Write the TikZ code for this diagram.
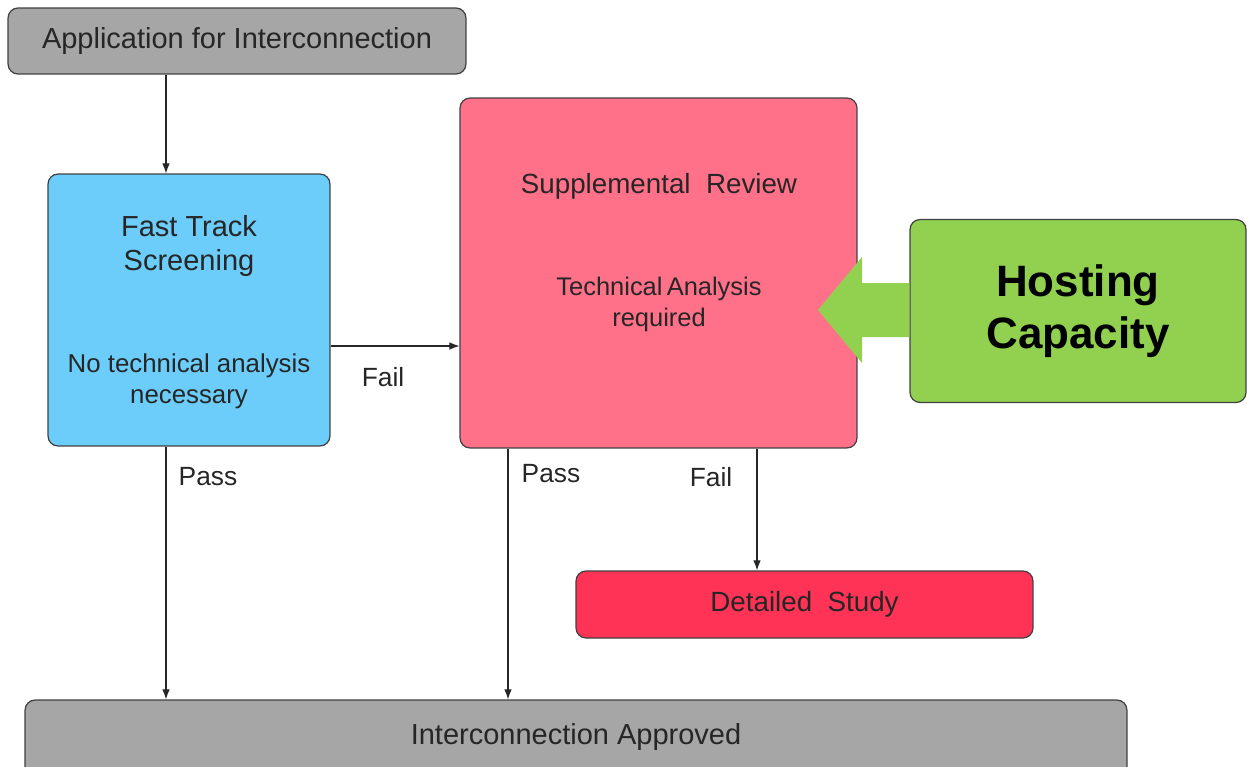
\documentclass[tikz,border=0pt]{standalone}
\usepackage{fontspec}
\setmainfont{Liberation Sans}
\usetikzlibrary{arrows.meta}
\definecolor{boxgray}{HTML}{A6A6A6}
\definecolor{boxblue}{HTML}{6CCDFA}
\definecolor{boxpink}{HTML}{FF7189}
\definecolor{boxred}{HTML}{FF3355}
\definecolor{boxgreen}{HTML}{92D050}
\definecolor{edgegray}{HTML}{404040}
\begin{document}
\begin{tikzpicture}[x=0.02cm,y=-0.02cm,
  box/.style={draw=edgegray,line width=0.7pt,rounded corners=0.2cm,inner sep=0pt},
  txt/.style={text=black!85,align=center,inner sep=0pt},
  lbl/.style={font=\fontsize{15}{18}\selectfont,text=black!85,inner sep=0pt},
  conn/.style={draw=black!85,line width=0.6pt,-{Latex[length=0.2cm,width=0.15cm]}}]
\useasboundingbox (0,0) rectangle (1247,767);
% boxes
\node[box,fill=boxgray,minimum width=9.16cm,minimum height=1.32cm,
  font=\fontsize{16.5}{20}\selectfont,text=black!85] (app) at (237,41) {Application for Interconnection};
\node[box,fill=boxblue,minimum width=5.64cm,minimum height=5.44cm] (fast) at (189,310) {};
\node[box,fill=boxpink,minimum width=7.94cm,minimum height=7.0cm] (supp) at (658.5,273) {};
\node[box,fill=boxgreen,minimum width=6.72cm,minimum height=3.66cm,
  font=\fontsize{25}{29.5}\selectfont\bfseries,align=center] (host) at (1078,311) {Hosting\\Capacity};
\node[box,fill=boxred,minimum width=9.14cm,minimum height=1.34cm,
  font=\fontsize{15.8}{19}\selectfont,text=black!85] (detail) at (804.5,604.5) {Detailed\ \ Study};
\node[box,fill=boxgray,minimum width=22.04cm,minimum height=1.64cm] (appr) at (576,741) {};
\node[font=\fontsize{16.5}{20}\selectfont,text=black!85,inner sep=0pt] (apprtxt) at (576,737) {Interconnection Approved};
% box texts
\node[txt,font=\fontsize{16.5}{19.8}\selectfont] (fasttitle) at (189,246) {Fast Track\\Screening};
\node[txt,font=\fontsize{14.7}{17.6}\selectfont] (fastnote) at (189,381) {No technical analysis\\necessary};
\node[txt,font=\fontsize{15.8}{19}\selectfont] (supptitle) at (659,186) {Supplemental\ \ Review};
\node[txt,font=\fontsize{14.5}{17.6}\selectfont] (suppnote) at (659,304) {Technical\,Analysis\\required};
% big green arrow
\fill[boxgreen] (host.west |- 0,283) -- (862,283) -- (862,257) -- (818,310)
  -- (862,363) -- (862,337) -- (host.west |- 0,337) -- cycle;
% connectors
\draw[conn] (app.south -| 166,0) -- (fast.north -| 166,0);
\draw[conn] (fast.south -| 166,0) -- (appr.north -| 166,0);
\draw[conn] (fast.east |- 0,346) -- (supp.west |- 0,346);
\draw[conn] (supp.south -| 508,0) -- (appr.north -| 508,0);
\draw[conn] (supp.south -| 757,0) -- (detail.north -| 757,0);
% labels
\node[lbl] (lfail1) at (383,377) {Fail};
\node[lbl] (lpass1) at (208,477) {Pass};
\node[lbl] (lpass2) at (551,474) {Pass};
\node[lbl] (lfail2) at (711,477) {Fail};
\end{tikzpicture}
\end{document}
